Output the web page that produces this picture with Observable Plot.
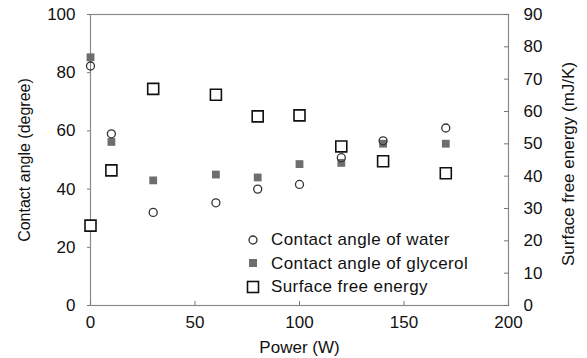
<!DOCTYPE html>
<html>
<head>
<meta charset="utf-8">
<script src="https://cdn.jsdelivr.net/npm/d3@7"></script>
<script src="https://cdn.jsdelivr.net/npm/@observablehq/plot@0.6"></script>
<style>
  html, body { margin: 0; padding: 0; background: white; }
  #wrap { position: relative; width: 587px; height: 358px; font-family: "Liberation Sans", Arial, sans-serif; }
  #legend { position: absolute; left: 245px; top: 228px; font-size: 17px; letter-spacing: 0.4px; color: #111; line-height: 23.5px; }
  #legend .row { display: flex; align-items: center; white-space: nowrap; }
  #legend svg { width: 16px; height: 16px; margin-right: 10px; }
</style>
</head>
<body>
<div id="wrap"></div>
<script>
// Data
const power    = [0, 10, 30, 60, 80, 100, 120, 140, 170];
const water    = [82.3, 59, 32, 35.3, 40, 41.6, 50.8, 56.6, 61];
const glycerol = [85.3, 56.2, 43, 45, 44, 48.6, 49, 55.6, 55.6];
const energy   = [24.7, 41.8, 67, 65.2, 58.5, 58.8, 49.2, 44.6, 40.9];

const xTicks = [0, 50, 100, 150, 200];
const yLeftTicks = [0, 20, 40, 60, 80, 100];
const yRightTicks = [0, 10, 20, 30, 40, 50, 60, 70, 80, 90];
const rightMax = 90, leftMax = 100;
const toLeft = v => v * leftMax / rightMax;

const seriesNames = ["Contact angle of water", "Contact angle of glycerol", "Surface free energy"];
const leftTitle = "Contact angle (degree)";
const rightTitle = "Surface free energy (mJ/K)";

const rows = power.map((p, i) => ({power: p, water: water[i], glycerol: glycerol[i], energy: energy[i]}));

const font = '"Liberation Sans", Arial, sans-serif';

const chart = Plot.plot({
  width: 587,
  height: 358,
  marginLeft: 90,
  marginRight: 79,
  marginTop: 14,
  marginBottom: 53,
  style: {fontFamily: font, fontSize: "17px", color: "#111", background: "white"},
  x: {domain: [0, 200]},
  y: {domain: [0, leftMax]},
  marks: [
    Plot.frame({stroke: "#8a8a8a", strokeWidth: 1.2}),
    Plot.axisX({ticks: xTicks, tickSize: -4, tickPadding: 14, stroke: "#777",
      label: "Power (W)", labelAnchor: "center", labelArrow: "none", labelOffset: 47, fontSize: 17}),
    Plot.axisY({anchor: "left", ticks: yLeftTicks, tickSize: 3, tickPadding: 12, stroke: "#777", fontSize: 17,
      label: null}),
    Plot.text([leftTitle], {frameAnchor: "left", textAnchor: "middle", rotate: -90, dx: -66, fontSize: 16, fill: "#111"}),
    Plot.axisY(yRightTicks.map(toLeft), {anchor: "right", tickSize: -5, tickPadding: 20, stroke: "#777",
      tickFormat: d => String(Math.round(d * rightMax / leftMax)), fontSize: 17, label: null}),
    Plot.text([rightTitle], {frameAnchor: "right", textAnchor: "middle", rotate: -90, dx: 60, dy: 4, fontSize: 17, fill: "#111"}),
    Plot.dot(rows, {x: "power", y: d => toLeft(d.energy), symbol: "square", r: 6.2, stroke: "#111", strokeWidth: 1.6, fill: "white"}),
    Plot.dot(rows, {x: "power", y: "glycerol", symbol: "square", r: 4.4, fill: "#6e6e6e", stroke: "none"}),
    Plot.dot(rows, {x: "power", y: "water", symbol: "circle", r: 4, stroke: "#333", strokeWidth: 1.3, fill: "white", fillOpacity: 0})
  ]
});

const wrap = document.getElementById("wrap");
wrap.appendChild(chart);

// Legend
const legendSymbols = [
  '<svg viewBox="0 0 16 16"><circle cx="8" cy="8" r="4" fill="none" stroke="#333" stroke-width="1.3"/></svg>',
  '<svg viewBox="0 0 16 16"><rect x="4" y="4" width="8" height="8" fill="#6e6e6e"/></svg>',
  '<svg viewBox="0 0 16 16"><rect x="2.5" y="2.5" width="11" height="11" fill="white" stroke="#111" stroke-width="1.6"/></svg>'
];
const legend = document.createElement("div");
legend.id = "legend";
legend.innerHTML = seriesNames.map((n, i) => `<div class="row">${legendSymbols[i]}<span>${n}</span></div>`).join("");
wrap.appendChild(legend);
</script>
</body>
</html>
